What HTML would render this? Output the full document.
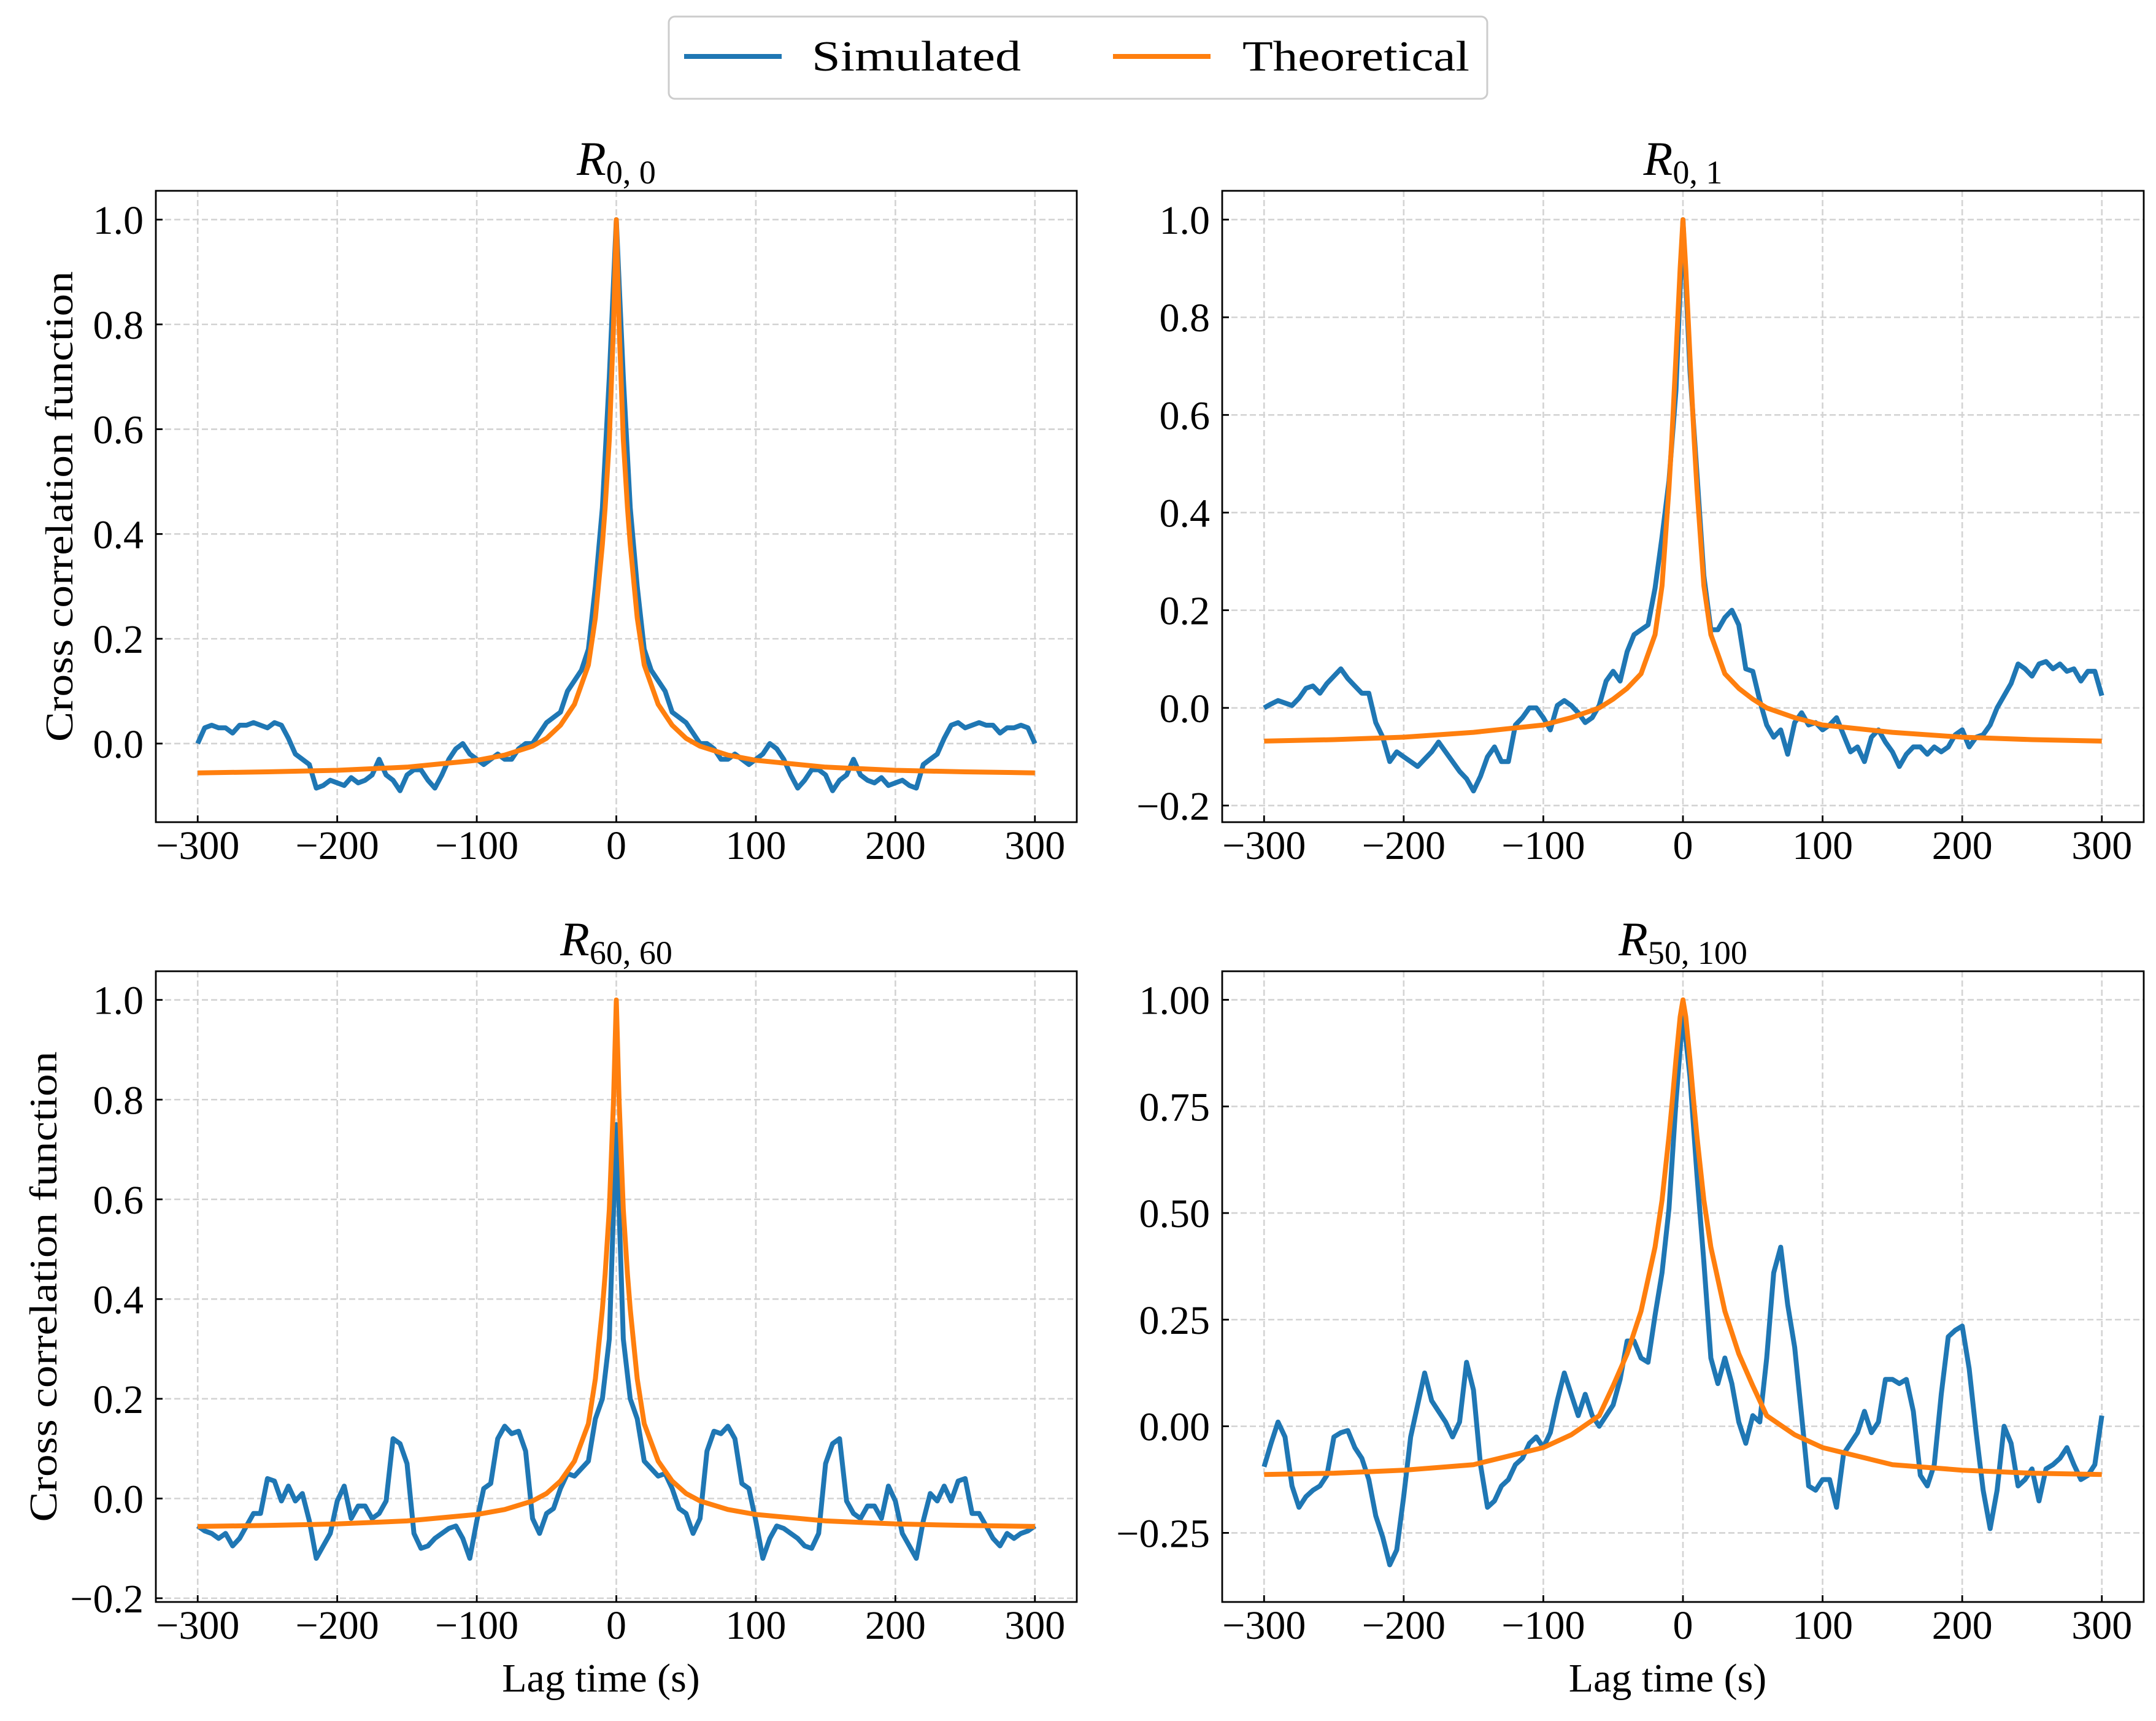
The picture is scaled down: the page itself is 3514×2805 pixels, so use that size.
<!DOCTYPE html>
<html><head><meta charset="utf-8"><style>
html,body{margin:0;padding:0;background:#fff;}
svg{display:block;font-family:"Liberation Serif",serif;}
</style></head><body>
<svg id="fig" width="3514" height="2805" viewBox="0 0 3514 2805" xmlns="http://www.w3.org/2000/svg">
<g>
<rect x="1090" y="27" width="1334" height="134" rx="10" fill="#fff" stroke="#cccccc" stroke-width="3"/>
<line x1="1115" y1="92" x2="1274" y2="92" stroke="#1f77b4" stroke-width="8"/>
<text x="1323" y="115" font-size="70" textLength="341" lengthAdjust="spacingAndGlyphs">Simulated</text>
<line x1="1814" y1="92" x2="1973" y2="92" stroke="#ff7f0e" stroke-width="8"/>
<text x="2025" y="115" font-size="70" textLength="370" lengthAdjust="spacingAndGlyphs">Theoretical</text>
</g>
</svg>
<script>
// ---- data ----
const simX = [-300,-295,-290,-285,-280,-275,-270,-265,-260,-255,-250,-245,-240,-235,-230,-225,-220,-215,-210,-205,-200,-195,-190,-185,-180,-175,-170,-165,-160,-155,-150,-145,-140,-135,-130,-125,-120,-115,-110,-105,-100,-95,-90,-85,-80,-75,-70,-65,-60,-55,-50,-45,-40,-35,-30,-25,-20,-15,-10,-5,0,5,10,15,20,25,30,35,40,45,50,55,60,65,70,75,80,85,90,95,100,105,110,115,120,125,130,135,140,145,150,155,160,165,170,175,180,185,190,195,200,205,210,215,220,225,230,235,240,245,250,255,260,265,270,275,280,285,290,295,300];
const theoX = [-300,-250,-200,-150,-100,-80,-60,-50,-40,-30,-20,-15,-10,-8,-5,-2,0,2,5,8,10,15,20,30,40,50,60,80,100,150,200,250,300];

const sim00 = [0.0,0.03,0.035,0.03,0.03,0.02,0.035,0.035,0.04,0.035,0.03,0.04,0.035,0.01,-0.02,-0.03,-0.04,-0.085,-0.08,-0.07,-0.075,-0.08,-0.065,-0.075,-0.07,-0.06,-0.03,-0.06,-0.07,-0.09,-0.06,-0.05,-0.05,-0.07,-0.085,-0.06,-0.03,-0.01,0.0,-0.02,-0.03,-0.04,-0.03,-0.02,-0.03,-0.03,-0.01,0.0,0.0,0.02,0.04,0.05,0.06,0.1,0.12,0.14,0.18,0.3,0.45,0.7,1.0,0.7,0.45,0.3,0.18,0.14,0.12,0.1,0.06,0.05,0.04,0.02,0.0,0.0,-0.01,-0.03,-0.03,-0.02,-0.03,-0.04,-0.03,-0.02,0.0,-0.01,-0.03,-0.06,-0.085,-0.07,-0.05,-0.05,-0.06,-0.09,-0.07,-0.06,-0.03,-0.06,-0.07,-0.075,-0.065,-0.08,-0.075,-0.07,-0.08,-0.085,-0.04,-0.03,-0.02,0.01,0.035,0.04,0.03,0.035,0.04,0.035,0.035,0.02,0.03,0.03,0.035,0.03,0.0];
const theo00 = [-0.056,-0.054,-0.051,-0.045,-0.032,-0.022,-0.005,0.01,0.035,0.075,0.15,0.24,0.38,0.45,0.58,0.8,1.0,0.8,0.58,0.45,0.38,0.24,0.15,0.075,0.035,0.01,-0.005,-0.022,-0.032,-0.045,-0.051,-0.054,-0.056];

const sim01 = [0.0,0.008,0.015,0.01,0.005,0.02,0.04,0.045,0.03,0.05,0.065,0.08,0.06,0.045,0.03,0.03,-0.03,-0.06,-0.11,-0.09,-0.1,-0.11,-0.12,-0.105,-0.09,-0.07,-0.09,-0.11,-0.13,-0.145,-0.17,-0.14,-0.1,-0.08,-0.11,-0.11,-0.035,-0.02,0.0,0.0,-0.02,-0.045,0.005,0.015,0.005,-0.01,-0.03,-0.02,0.005,0.055,0.075,0.055,0.115,0.15,0.16,0.17,0.245,0.35,0.465,0.65,1.0,0.69,0.48,0.27,0.16,0.16,0.185,0.2,0.17,0.08,0.075,0.015,-0.035,-0.06,-0.045,-0.095,-0.03,-0.01,-0.035,-0.03,-0.045,-0.035,-0.02,-0.055,-0.09,-0.08,-0.11,-0.06,-0.045,-0.07,-0.09,-0.12,-0.095,-0.08,-0.08,-0.095,-0.08,-0.09,-0.08,-0.055,-0.045,-0.08,-0.06,-0.055,-0.035,0.0,0.025,0.05,0.09,0.08,0.065,0.09,0.095,0.08,0.09,0.075,0.08,0.055,0.075,0.075,0.025];
const theo01 = [-0.068,-0.065,-0.06,-0.05,-0.035,-0.02,0.0,0.018,0.04,0.07,0.15,0.25,0.45,0.55,0.72,0.9,1.0,0.9,0.72,0.55,0.45,0.25,0.15,0.07,0.04,0.018,0.0,-0.02,-0.035,-0.05,-0.06,-0.065,-0.068];

const sim60 = [-0.055,-0.065,-0.07,-0.08,-0.07,-0.095,-0.08,-0.055,-0.03,-0.03,0.04,0.035,-0.005,0.025,-0.005,0.01,-0.045,-0.12,-0.095,-0.07,-0.005,0.025,-0.04,-0.015,-0.015,-0.04,-0.03,-0.005,0.12,0.11,0.07,-0.07,-0.1,-0.095,-0.08,-0.07,-0.06,-0.055,-0.08,-0.12,-0.045,0.02,0.03,0.12,0.145,0.13,0.135,0.095,-0.04,-0.07,-0.03,-0.02,0.02,0.05,0.045,0.06,0.075,0.16,0.2,0.32,0.75,0.32,0.2,0.16,0.075,0.06,0.045,0.05,0.02,-0.02,-0.03,-0.07,-0.04,0.095,0.135,0.13,0.145,0.12,0.03,0.02,-0.045,-0.12,-0.08,-0.055,-0.06,-0.07,-0.08,-0.095,-0.1,-0.07,0.07,0.11,0.12,-0.005,-0.03,-0.04,-0.015,-0.015,-0.04,0.025,-0.005,-0.07,-0.095,-0.12,-0.045,0.01,-0.005,0.025,-0.005,0.035,0.04,-0.03,-0.03,-0.055,-0.08,-0.095,-0.07,-0.08,-0.07,-0.065,-0.055];
const theo60 = [-0.056,-0.054,-0.051,-0.045,-0.032,-0.022,-0.005,0.01,0.035,0.075,0.15,0.24,0.38,0.45,0.58,0.8,1.0,0.8,0.58,0.45,0.38,0.24,0.15,0.075,0.035,0.01,-0.005,-0.022,-0.032,-0.045,-0.051,-0.054,-0.056];

const sim50 = [-0.095,-0.04,0.01,-0.025,-0.14,-0.19,-0.165,-0.15,-0.14,-0.115,-0.025,-0.015,-0.01,-0.05,-0.075,-0.125,-0.21,-0.26,-0.325,-0.29,-0.165,-0.025,0.05,0.125,0.06,0.035,0.01,-0.025,0.01,0.15,0.085,-0.09,-0.19,-0.175,-0.14,-0.125,-0.09,-0.075,-0.04,-0.025,-0.05,-0.015,0.06,0.125,0.075,0.025,0.075,0.025,0.0,0.025,0.05,0.11,0.2,0.2,0.16,0.15,0.26,0.36,0.51,0.76,0.97,0.82,0.59,0.385,0.16,0.1,0.16,0.1,0.01,-0.04,0.025,0.01,0.16,0.36,0.42,0.285,0.185,0.025,-0.14,-0.15,-0.125,-0.125,-0.19,-0.065,-0.04,-0.015,0.035,-0.015,0.01,0.11,0.11,0.1,0.11,0.035,-0.115,-0.14,-0.09,0.075,0.21,0.225,0.235,0.135,-0.015,-0.15,-0.24,-0.15,0.0,-0.04,-0.14,-0.125,-0.1,-0.175,-0.1,-0.09,-0.075,-0.05,-0.09,-0.125,-0.115,-0.09,0.025];
const theo50 = [-0.113,-0.11,-0.103,-0.09,-0.05,-0.02,0.025,0.095,0.17,0.27,0.42,0.53,0.68,0.75,0.86,0.96,1.0,0.96,0.86,0.75,0.68,0.53,0.42,0.27,0.17,0.095,0.025,-0.02,-0.05,-0.09,-0.103,-0.11,-0.113];

const xTicks = [-300,-200,-100,0,100,200,300];
const yTicks1 = [0.0,0.2,0.4,0.6,0.8,1.0];
const yTicks2 = [-0.2,0.0,0.2,0.4,0.6,0.8,1.0];
const yTicks3 = [-0.2,0.0,0.2,0.4,0.6,0.8,1.0];
const yTicks4 = [-0.25,0.0,0.25,0.5,0.75,1.0];

// ---- layout ----
const NS = "http://www.w3.org/2000/svg";
const svg = document.getElementById('fig');
function mk(tag, attrs, parent){
  const e = document.createElementNS(NS, tag);
  for (const k in attrs) e.setAttribute(k, attrs[k]);
  (parent||svg).appendChild(e);
  return e;
}
const panels = [
  {key:'r00', x0:254, x1:1755, y0:311, y1:1340, ylim:[-0.15,1.055], yt:yTicks1, dec:1, sim:sim00, theo:theo00, sub:'0, 0', ylab:true, xlab:false, ylabX:118},
  {key:'r01', x0:1992, x1:3494, y0:311, y1:1340, ylim:[-0.234,1.059], yt:yTicks2, dec:1, sim:sim01, theo:theo01, sub:'0, 1', ylab:false, xlab:false},
  {key:'r6060', x0:254, x1:1755, y0:1583, y1:2611, ylim:[-0.2075,1.0575], yt:yTicks3, dec:1, sim:sim60, theo:theo60, sub:'60, 60', ylab:true, xlab:true, ylabX:92},
  {key:'r50100', x0:1992, x1:3494, y0:1583, y1:2611, ylim:[-0.412,1.067], yt:yTicks4, dec:2, sim:sim50, theo:theo50, sub:'50, 100', ylab:false, xlab:true}
];
const xlim = [-330,330];
function fmt(v, d){ const s = Math.abs(v).toFixed(d); return (v < -1e-9 ? '\u2212' : '') + s; }

panels.forEach(p => {
  const sx = v => p.x0 + (v - xlim[0]) / (xlim[1]-xlim[0]) * (p.x1 - p.x0);
  const sy = v => p.y1 - (v - p.ylim[0]) / (p.ylim[1]-p.ylim[0]) * (p.y1 - p.y0);
  const g = mk('g', {});
  
  
  const clipId = 'clip-' + p.key;
  const cp = mk('clipPath', {id: clipId}, g);
  mk('rect', {x:p.x0, y:p.y0, width:p.x1-p.x0, height:p.y1-p.y0}, cp);
  xTicks.forEach(t => {
    const l = mk('line', {x1:sx(t), x2:sx(t), y1:p.y0, y2:p.y1, stroke:'#d3d3d3', 'stroke-width':2.6, 'stroke-dasharray':'10,5'}, g);
    
    
  });
  p.yt.forEach(t => {
    const l = mk('line', {x1:p.x0, x2:p.x1, y1:sy(t), y2:sy(t), stroke:'#d3d3d3', 'stroke-width':2.6, 'stroke-dasharray':'10,5'}, g);
    
    
  });
  const sp = p.sim.map((v,i) => sx(simX[i]).toFixed(1) + ',' + sy(v).toFixed(1)).join(' ');
  const sl = mk('polyline', {points:sp, fill:'none', stroke:'#1f77b4', 'stroke-width':8, 'stroke-linejoin':'round', 'clip-path':'url(#'+clipId+')'}, g);
  
  
  const tp = p.theo.map((v,i) => sx(theoX[i]).toFixed(1) + ',' + sy(v).toFixed(1)).join(' ');
  const tl = mk('polyline', {points:tp, fill:'none', stroke:'#ff7f0e', 'stroke-width':8, 'stroke-linejoin':'round', 'clip-path':'url(#'+clipId+')'}, g);
  
  
  const fr = mk('rect', {x:p.x0, y:p.y0, width:p.x1-p.x0, height:p.y1-p.y0, fill:'none', stroke:'#000', 'stroke-width':2.8}, g);
  
  
  xTicks.forEach(t => {
    mk('line', {x1:sx(t), x2:sx(t), y1:p.y1, y2:p.y1-11, stroke:'#000', 'stroke-width':2.8}, g);
    const tx = mk('text', {x:sx(t), y:p.y1+60, 'font-size':66, 'text-anchor':'middle'}, g);
    tx.textContent = fmt(t, 0);
    
    
  });
  p.yt.forEach(t => {
    mk('line', {x1:p.x0, x2:p.x0+11, y1:sy(t), y2:sy(t), stroke:'#000', 'stroke-width':2.8}, g);
    const tx = mk('text', {x:p.x0-20, y:sy(t)+23, 'font-size':66, 'text-anchor':'end'}, g);
    tx.textContent = fmt(t, p.dec);
    
    
  });
  const cx = (p.x0 + p.x1) / 2;
  const title = mk('text', {x:cx, y:p.y0-26, 'text-anchor':'middle', 'font-size':78}, g);
  
  
  const r = mk('tspan', {'font-style':'italic'}, title); r.textContent = 'R';
  const s = mk('tspan', {'font-size':54, dy:14}, title); s.textContent = p.sub;
  if (p.ylab) {
    const cy = (p.y0 + p.y1) / 2;
    const yl = mk('text', {x:p.ylabX, y:cy, 'font-size':64, 'text-anchor':'middle', transform:'rotate(-90 '+p.ylabX+' '+cy+')', textLength:767, lengthAdjust:'spacingAndGlyphs'}, g);
    yl.textContent = 'Cross correlation function';
    
    
  }
  if (p.xlab) {
    const xl = mk('text', {x:cx - 25, y:p.y1+146, 'font-size':66, 'text-anchor':'middle'}, g);
    xl.textContent = 'Lag time (s)';
    
    
  }
});
</script>
</body></html>
